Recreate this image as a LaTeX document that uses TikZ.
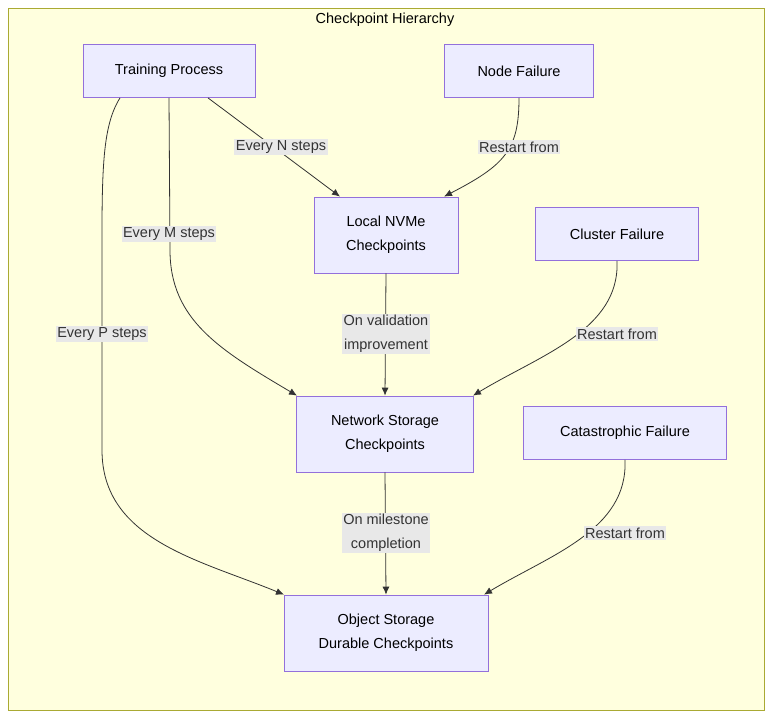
\documentclass[tikz,border=0pt]{standalone}
\usepackage{fontspec}
\setmainfont{Liberation Sans}
\usetikzlibrary{arrows.meta}
\definecolor{bgc}{HTML}{FFFFDE}
\definecolor{bgb}{HTML}{AAAA33}
\definecolor{nf}{HTML}{ECECFF}
\definecolor{nb}{HTML}{9370DB}
\definecolor{lb}{HTML}{E8E8E8}
\definecolor{ed}{HTML}{333333}
\begin{document}
\begin{tikzpicture}[x=1pt,y=-1pt,
  box/.style={draw=nb,fill=nf,line width=0.8pt,align=center,font=\fontsize{14.5}{24}\selectfont,inner sep=0pt},
  lab/.style={fill=lb,align=center,font=\fontsize{14.5}{24}\selectfont,inner sep=1.5pt,text=ed},
  e/.style={draw=ed,line width=0.8pt,-{Latex[length=8pt,width=7pt]}}]
\useasboundingbox (0,0) rectangle (778,724);
\draw[bgb,fill=bgc,line width=0.8pt] (8,8) rectangle (764,710);
\node[font=\fontsize{14.5}{17}\selectfont] (title) at (385,20) {Checkpoint Hierarchy};
\node[box,minimum width=172pt,minimum height=53pt] (tp) at (169,71) {Training Process};
\node[box,minimum width=149pt,minimum height=53pt] (nf) at (519,71) {Node Failure};
\node[box,minimum width=144pt,minimum height=76pt] (ln) at (386,235) {Local NVMe\\Checkpoints};
\node[box,minimum width=163pt,minimum height=53pt] (cf) at (617,234) {Cluster Failure};
\node[box,minimum width=177pt,minimum height=76pt] (ns) at (385,434) {Network Storage\\Checkpoints};
\node[box,minimum width=203pt,minimum height=53pt] (ca) at (625,433) {Catastrophic Failure};
\node[box,minimum width=204pt,minimum height=76pt] (os) at (386,633) {Object Storage\\Durable Checkpoints};
\coordinate (t1) at ([xshift=39pt]tp.south);
\coordinate (t3) at ([xshift=-49pt]tp.south);
\draw[e] (t1) -- ([xshift=-46pt]ln.north);
\node[lab] (l1) at (281,147) {Every N steps};
\draw[e] (nf.south) .. controls (519,150) and (505,165) .. ([xshift=58pt]ln.north);
\node[lab] (l2) at (519,147) {Restart from};
\draw[e] (tp.south) -- (170,250) .. controls (170,320) and (220,350) .. ([xshift=-88pt]ns.north);
\node[lab] (l3) at (169,234) {Every M steps};
\draw[e] (t3) .. controls (100,130) and (102,180) .. (102,300) -- (102,450) .. controls (102,540) and (200,560) .. ([xshift=-102pt]os.north);
\node[lab] (l4) at (102,334) {Every P steps};
\draw[e] (ln.south) -- (ns.north);
\node[lab] (l5) at (386,334) {On validation\\improvement};
\draw[e] (cf.south) .. controls (620,330) and (540,355) .. ([xshift=88pt]ns.north);
\node[lab] (l6) at (617,334) {Restart from};
\draw[e] (ca.south) .. controls (628,530) and (550,555) .. ([xshift=98pt]os.north);
\node[lab] (l8) at (625,533) {Restart from};
\draw[e] (ns.south) -- (os.north);
\node[lab] (l7) at (386,533) {On milestone\\completion};
\end{tikzpicture}
\end{document}
